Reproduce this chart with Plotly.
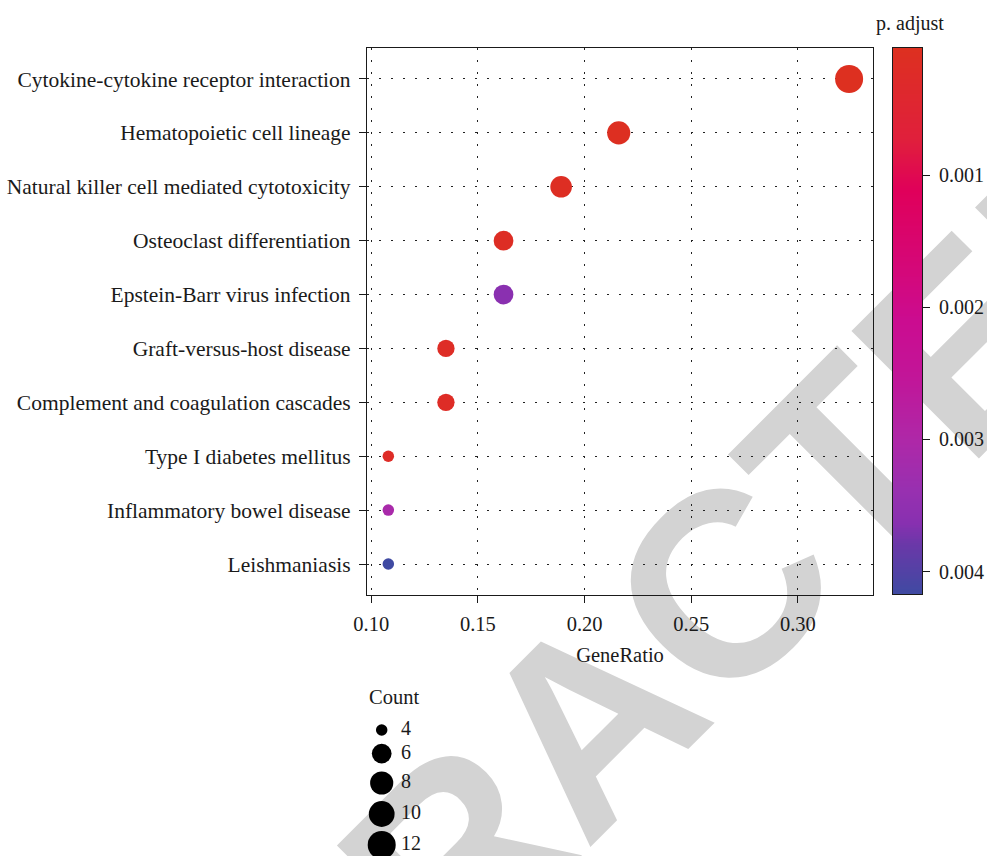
import numpy as np
import plotly.graph_objects as go

# ---- KEGG enrichment results ----
pathways = [
    "Cytokine-cytokine receptor interaction",
    "Hematopoietic cell lineage",
    "Natural killer cell mediated cytotoxicity",
    "Osteoclast differentiation",
    "Epstein-Barr virus infection",
    "Graft-versus-host disease",
    "Complement and coagulation cascades",
    "Type I diabetes mellitus",
    "Inflammatory bowel disease",
    "Leishmaniasis",
]
gene_ratio = [0.324, 0.216, 0.189, 0.162, 0.162, 0.135, 0.135, 0.108, 0.108, 0.108]
counts = [12, 8, 7, 6, 6, 5, 5, 4, 4, 4]
p_adjust = [0.00004, 0.00007, 0.00012, 0.00015, 0.0036, 0.00018, 0.0002, 0.00022, 0.0031, 0.00417]

x_ticks = [0.10, 0.15, 0.20, 0.25, 0.30]
cbar_ticks = [0.001, 0.002, 0.003, 0.004]
legend_counts = [4, 6, 8, 10, 12]

# ---- figure geometry (pixels) ----
W, H = 987, 856
ML, MT = 367, 48
area_w, area_h = W - ML, H - MT
PLOT_RIGHT, PLOT_BOTTOM = 873, 595


def px_x(px):
    return (px - ML) / area_w


def px_y(py):
    return (H - py) / area_h


FONT = "Liberation Serif"
INK = "#1a1a1a"

# red -> magenta -> purple -> blue gradient for p.adjust
colorscale = [
    [0.00, "#DD3020"],
    [0.17, "#E01F3C"],
    [0.26, "#E0005A"],
    [0.41, "#D4087A"],
    [0.50, "#CB0C90"],
    [0.60, "#C21598"],
    [0.72, "#AE28A8"],
    [0.81, "#9830B0"],
    [0.87, "#8830B0"],
    [0.91, "#6A38A8"],
    [1.00, "#3F4AA2"],
]
c_lo, c_hi = 0.0000379, 0.00417


def dot_diameter(c, lo=min(legend_counts), hi=max(legend_counts)):
    """Area-style size scale: count -> marker diameter in px."""
    c = np.asarray(c, dtype=float)
    size_pt = 3 + 5 * np.sqrt((c - lo) / (hi - lo))
    return 3.3 * size_pt + 1.6


fig = go.Figure()

# enrichment dots
fig.add_trace(go.Scatter(
    x=gene_ratio, y=pathways, mode="markers",
    marker=dict(size=dot_diameter(counts), color=p_adjust, colorscale=colorscale,
                cmin=c_lo, cmax=c_hi, showscale=False, line=dict(width=0), opacity=1),
    showlegend=False, hoverinfo="skip",
))

# p.adjust colour bar (small values on top) as a one-column heatmap
edges = np.linspace(c_lo, c_hi, 301)
centers = (edges[:-1] + edges[1:]) / 2
fig.add_trace(go.Heatmap(
    x=[0], y=centers, z=centers.reshape(-1, 1), xaxis="x3", yaxis="y3",
    colorscale=colorscale, zmin=c_lo, zmax=c_hi, showscale=False, hoverinfo="skip",
))

# Count size legend on its own hidden axes
leg_dom_top = 0.32
leg_top_px = H - leg_dom_top * area_h
diam = dot_diameter(legend_counts)
key_h = np.minimum(diam + 8, 31)
leg_y = [730 - leg_top_px]
for i in range(1, len(legend_counts)):
    leg_y.append(leg_y[-1] + (key_h[i - 1] + key_h[i]) / 2)

fig.add_trace(go.Scatter(
    x=[381.7 - ML] * len(legend_counts), y=leg_y, mode="markers",
    xaxis="x2", yaxis="y2",
    marker=dict(size=diam, color="black", line=dict(width=0), opacity=1),
    showlegend=False, hoverinfo="skip",
))
fig.add_trace(go.Scatter(
    x=[401 - ML] * len(legend_counts), y=leg_y, mode="text", xaxis="x2", yaxis="y2",
    text=[str(c) for c in legend_counts], textposition="middle right",
    textfont=dict(family=FONT, size=20, color=INK),
    showlegend=False, hoverinfo="skip",
))

grid = dict(showgrid=True, gridcolor="#222222", gridwidth=1, griddash="2px,10px")
frame = dict(showline=True, mirror=True, linecolor=INK, linewidth=1.2, zeroline=False)

fig.update_layout(
    width=W, height=H,
    margin=dict(l=ML, r=0, t=MT, b=0),
    paper_bgcolor="white", plot_bgcolor="rgba(0,0,0,0)",
    font=dict(family=FONT, size=20, color=INK),
    xaxis=dict(
        domain=[0, px_x(PLOT_RIGHT)], range=[0.098, 0.3352], tickvals=x_ticks,
        tickformat=".2f", ticks="outside", ticklen=7, tickwidth=1.2, tickcolor=INK,
        ticklabelstandoff=3,
        title=dict(text="GeneRatio", font=dict(size=20.5), standoff=13),
        tickfont=dict(size=20.5), **frame, **grid,
    ),
    yaxis=dict(
        domain=[px_y(PLOT_BOTTOM), 1], type="category", categoryorder="array",
        categoryarray=pathways, range=[len(pathways) - 0.425, -0.575],
        ticks="outside", ticklen=7, tickwidth=1.2, tickcolor=INK,
        ticklabelstandoff=4, tickfont=dict(size=21.5), **frame, **grid,
    ),
    xaxis2=dict(domain=[0, 0.3], range=[0, 0.3 * area_w], visible=False, anchor="y2"),
    yaxis2=dict(domain=[0, leg_dom_top], range=[leg_dom_top * area_h, 0],
                visible=False, anchor="x2"),
    xaxis3=dict(domain=[px_x(893), px_x(922)], range=[-0.5, 0.5], anchor="y3",
                showticklabels=False, ticks="", showgrid=False, **frame),
    yaxis3=dict(domain=[px_y(594), px_y(MT)], range=[c_hi, c_lo], anchor="x3",
                side="right", tickvals=cbar_ticks, tickformat=".3f",
                ticks="outside", ticklen=7, tickwidth=1.2, tickcolor=INK,
                ticklabelstandoff=5, showgrid=False, tickfont=dict(size=20), **frame),
)

# legend titles
fig.add_annotation(text="Count", xref="x2", yref="y2", x=367 - ML, y=697 - leg_top_px,
                   xanchor="left", yanchor="middle", showarrow=False,
                   font=dict(family=FONT, size=20.5, color=INK))
fig.add_annotation(text="p. adjust", xref="paper", yref="paper",
                   x=px_x(874), y=px_y(23), xanchor="left", yanchor="middle",
                   showarrow=False, font=dict(family=FONT, size=20, color=INK))

# diagonal watermark behind everything
cx, cy = px_x(571), px_y(703)
fig.add_shape(
    type="rect", xref="paper", yref="paper",
    x0=cx - 0.001, x1=cx + 0.001, y0=cy - 0.001, y1=cy + 0.001,
    line=dict(width=0), fillcolor="rgba(0,0,0,0)", layer="below",
    label=dict(text="RETRACTED", textangle=-45, textposition="middle center",
               font=dict(family="Liberation Sans", size=262, color="#D3D3D3",
                         weight="bold")),
)

fig.write_html("out.html")
